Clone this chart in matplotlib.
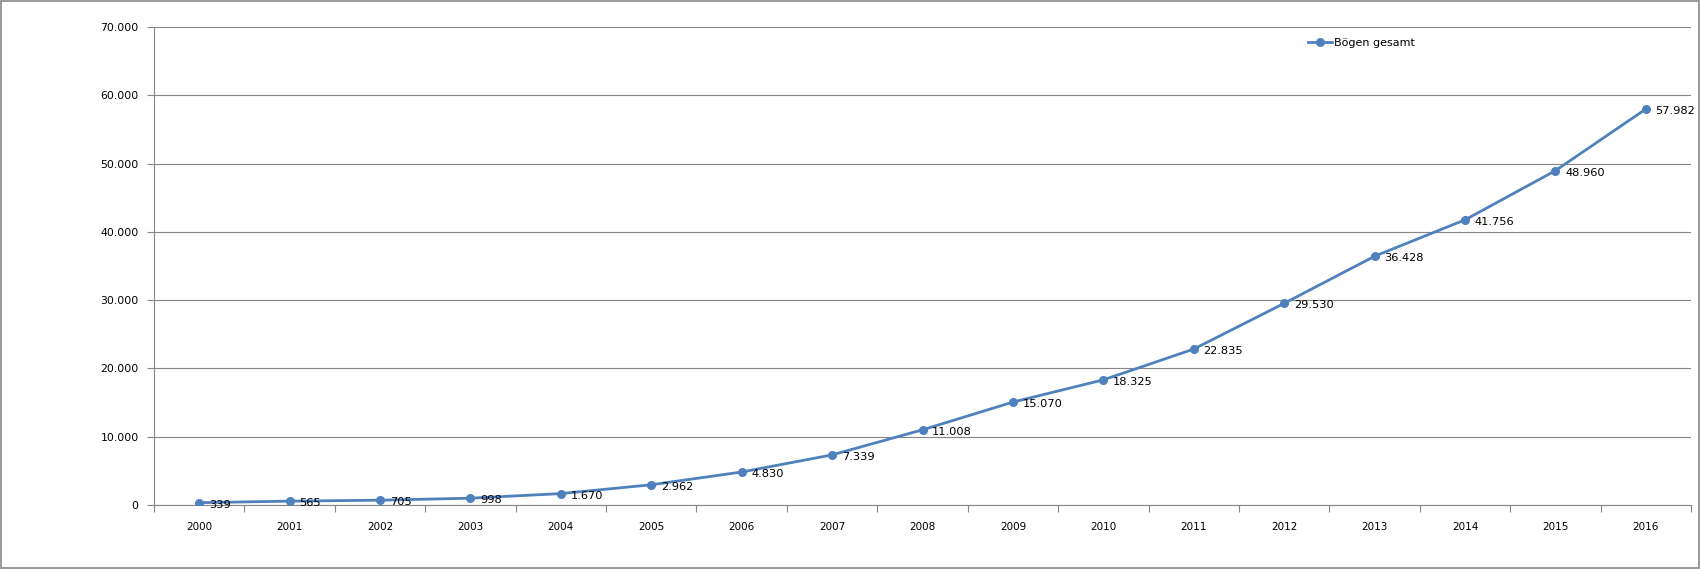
import matplotlib
matplotlib.use("Agg")
import matplotlib.pyplot as plt
from matplotlib.patches import Rectangle
from matplotlib.ticker import FuncFormatter, MultipleLocator

years = ["2000", "2001", "2002", "2003", "2004", "2005", "2006", "2007", "2008",
         "2009", "2010", "2011", "2012", "2013", "2014", "2015", "2016"]
boegen = [339, 565, 705, 998, 1670, 2962, 4830, 7339, 11008,
          15070, 18325, 22835, 29530, 36428, 41756, 48960, 57982]
series_name = "Bögen gesamt"

def de(v):
    return f"{int(round(v)):,}".replace(",", ".")

color = "#4F81BD"
grid = "#868686"

fig = plt.figure(figsize=(17, 5.69), dpi=100)
fig.patches.append(Rectangle((0.0006, 0.001), 0.9988, 0.997, transform=fig.transFigure,
                             fill=False, edgecolor="#888888", linewidth=1.2))
ax = fig.add_axes([154/1700, 1 - 505/569, (1691 - 154)/1700, (505 - 27)/569])

x = list(range(len(years)))
ax.plot(x, boegen, color=color, linewidth=2.0, marker="o", markersize=5.5,
        label=series_name, zorder=3)
for xi, v in zip(x, boegen):
    ax.annotate(de(v), (xi, v), xytext=(7, -1.5), textcoords="offset points",
                ha="left", va="center", fontsize=8.2, color="black", zorder=4)

ax.set_xlim(-0.5, len(years) - 0.5)
ax.set_ylim(0, 70000)
ax.yaxis.set_major_locator(MultipleLocator(10000))
ax.yaxis.set_major_formatter(FuncFormatter(lambda v, p: de(v)))
ax.set_xticks(x)
ax.set_xticklabels(years)
ax.set_xticks([i - 0.5 for i in range(len(years) + 1)], minor=True)
ax.tick_params(axis="x", which="major", length=0, labelsize=7.5, pad=12)
ax.tick_params(axis="x", which="minor", length=5, width=0.8, color=grid, direction="out")
ax.tick_params(axis="y", length=5, width=0.8, color=grid, labelsize=7.8, pad=6)

ax.grid(axis="y", color=grid, linewidth=0.8)
ax.set_axisbelow(True)
for s in ["top", "right"]:
    ax.spines[s].set_visible(False)
for s in ["left", "bottom"]:
    ax.spines[s].set_color(grid)
    ax.spines[s].set_linewidth(0.8)

leg = ax.legend(loc="upper left", bbox_to_anchor=((1308 - 154)/1537, 1 - (48 - 27 - 10)/478),
                frameon=False, fontsize=8, handlelength=2.2, handletextpad=0.1,
                borderaxespad=0, borderpad=0)

fig.savefig("out.png", dpi=100, facecolor="white")
